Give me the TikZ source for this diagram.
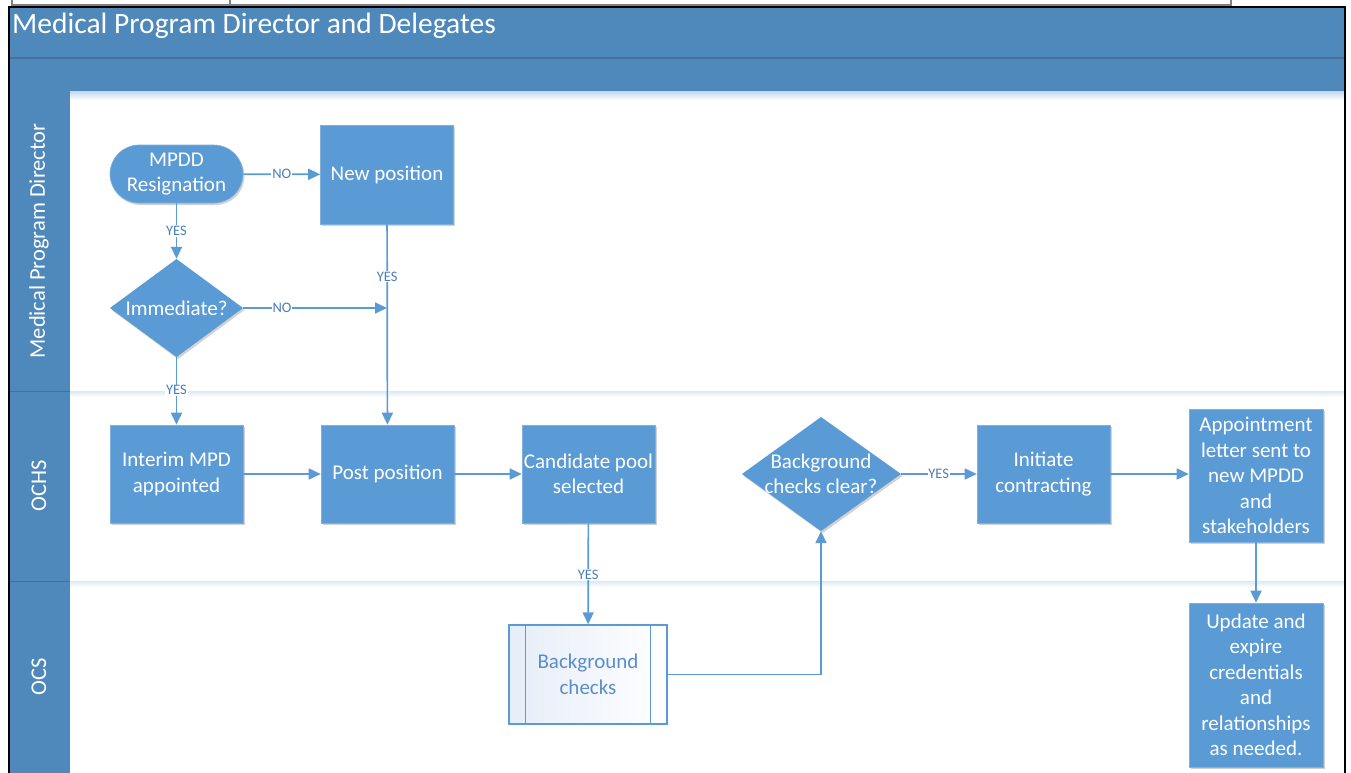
\documentclass[tikz,border=0pt]{standalone}
\usepackage{fontspec}
\setmainfont{Carlito}
\usetikzlibrary{arrows.meta,calc,shadows}

\definecolor{hdr}{HTML}{4F88BB}
\definecolor{hdrline}{HTML}{44719E}
\definecolor{boxfill}{HTML}{5B9BD5}
\definecolor{boxedge}{HTML}{7FB0DE}
\definecolor{lbl}{HTML}{4A7EBB}
\definecolor{lanerule}{HTML}{41719C}
\definecolor{subtext}{HTML}{5A8ECA}
\definecolor{subfill}{HTML}{E6EDF8}

\begin{document}
\begin{tikzpicture}[x=1pt,y=-1pt,
  bodyfont/.style={font=\fontsize{21}{25.5}\selectfont},
  proc/.style={rectangle, fill=boxfill, draw=boxedge, line width=0.6pt,
    text=white, bodyfont, align=center, inner sep=0pt,
    drop shadow={shadow xshift=1.5pt, shadow yshift=-2pt, opacity=0.18, fill=black}},
  decision/.style={fill=boxfill,
    drop shadow={shadow xshift=1.5pt, shadow yshift=-2pt, opacity=0.18, fill=black}},
  dtext/.style={rectangle, text=white, bodyfont, align=center, inner sep=0pt},
  subproc/.style={rectangle, draw=boxfill, line width=1.4pt, left color=subfill,
    right color=white, text=subtext, bodyfont, align=center, inner sep=0pt},
  lab/.style={fill=white, text=lbl, font=\fontsize{14.5}{15}\selectfont, inner sep=0.8pt},
  flow/.style={draw=boxfill, line width=1.7pt, -{Triangle[length=12pt,width=11pt]}},
  lanetext/.style={text=white, font=\fontsize{22.5}{24}\selectfont, rotate=90}
]
\useasboundingbox (0,0) rectangle (1351,773);
\fill[white] (0,0) rectangle (1351,773);

% table edge above the pool
\draw[gray, line width=1.6pt] (12,-3) rectangle (1231,5);
\draw[gray, line width=1.6pt] (230,-3) -- (230,5);

% pool header and lane headers
\fill[hdr] (9,7) rectangle (1345,92);
\draw[hdrline, line width=1.4pt] (9,58) -- (1345,58);
\fill[hdr] (9,92) rectangle (70,773);
\shade[top color=hdr!30, bottom color=white] (70,92) rectangle (1345,100);
\node[anchor=base west, text=white, font=\fontsize{29.5}{32}\selectfont, inner sep=0pt]
  (title) at (12,33.5) {Medical Program Director and Delegates};

% lane separators
\draw[lanerule, line width=1pt] (9,391) -- (1345,391);
\draw[lanerule, line width=1pt] (9,581) -- (1345,581);
\shade[top color=hdr!18, bottom color=white] (70,391.5) rectangle (1345,397);
\shade[top color=hdr!18, bottom color=white] (70,581.5) rectangle (1345,587);

% outer frame
\draw[black, line width=1.3pt] (9,773) -- (9,7) -- (1345,7) -- (1345,773);

% lane names
\node[lanetext] (lane1) at (39,241) {Medical Program Director};
\node[lanetext] (lane2) at (39,486) {OCHS};
\node[lanetext] (lane3) at (39,677) {OCS};

% lane 1
\node[proc, rounded corners=29pt, minimum width=133, minimum height=58]
  (mpdd) at (176.5,174) {MPDD\\Resignation};
\node[proc, minimum width=133, minimum height=99] (newpos) at (387,174.5) {New position};
\path[decision] (176.5,259) -- (243,308) -- (176.5,357) -- (110,308) -- cycle;
\node[dtext, minimum width=133, minimum height=98] (imm) at (176.5,308) {Immediate?};
\coordinate (join) at (387,308);

% lane 2
\node[proc, minimum width=133, minimum height=98] (interim) at (176.5,474) {Interim MPD\\appointed};
\node[proc, minimum width=133, minimum height=98] (post) at (387.5,474) {Post position};
\node[proc, minimum width=133, minimum height=98] (cand) at (588.5,474) {Candidate pool\\selected};
\path[decision] (821,417) -- (901,474) -- (821,531) -- (742,474) -- cycle;
\node[dtext, minimum width=159, minimum height=114] (clear) at (821,474) {Background\\checks clear?};
\node[proc, minimum width=133, minimum height=98] (init) at (1043.5,474) {Initiate\\contracting};
\node[proc, minimum width=134, minimum height=133] (appt) at (1256,475.5)
  {\fontsize{21}{24.5}\selectfont Appointment\\letter sent to\\new MPDD\\and\\stakeholders};

% lane 3
\node[subproc, minimum width=158, minimum height=99] (bgc) at (588,674.5) {Background\\checks};
\draw[boxfill, line width=1.4pt] ($(bgc.north west)+(17,0)$) -- ($(bgc.south west)+(17,0)$);
\draw[boxfill, line width=1.4pt] ($(bgc.north east)+(-17,0)$) -- ($(bgc.south east)+(-17,0)$);
\node[proc, minimum width=134, minimum height=164] (upd) at (1256,685)
  {\fontsize{21}{24.3}\selectfont Update and\\expire\\credentials\\and\\relationships\\as needed.};

% connectors
\draw[flow] (mpdd) -- node[lab]{NO} (newpos);
\draw[flow] (mpdd) -- node[lab]{YES} (imm);
\draw[flow] (newpos) -- node[lab, pos=0.26]{YES} (post);
\draw[flow] (imm) -- node[lab, pos=0.27]{NO} (join);
\draw[flow] (imm) -- node[lab, pos=0.49]{YES} (interim);
\draw[flow] (interim) -- (post);
\draw[flow] (post) -- (cand);
\draw[flow] (cand) -- node[lab, pos=0.51]{YES} (bgc);
\draw[flow] (bgc.east) -| (clear.south);
\draw[flow] (clear) -- node[lab]{YES} (init);
\draw[flow] (init.east) -- (init.east -| appt.west);
\draw[flow] (appt) -- (upd);
\end{tikzpicture}
\end{document}
